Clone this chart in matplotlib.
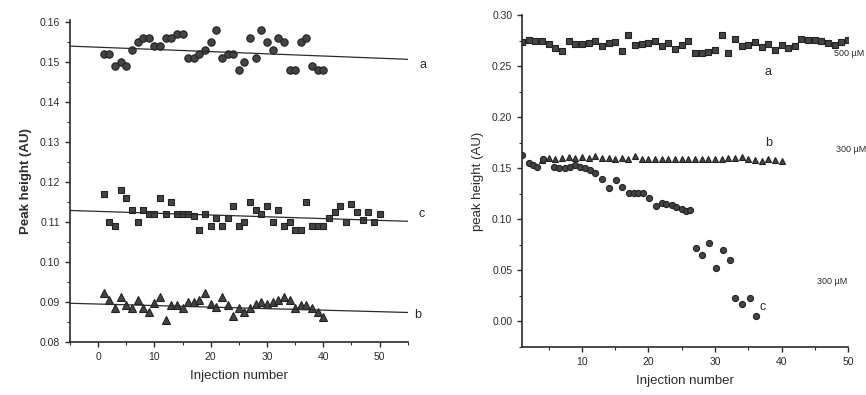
import numpy as np
import matplotlib
matplotlib.use("Agg")
import matplotlib.pyplot as plt
from matplotlib.ticker import MultipleLocator

plt.rcParams['font.family'] = ['Liberation Sans', 'DejaVu Sans']

# left panel: peak height vs injection number
left_a = [0.152, 0.152, 0.149, 0.150, 0.149, 0.153, 0.155, 0.156, 0.156, 0.154,
          0.154, 0.156, 0.156, 0.157, 0.157, 0.151, 0.151, 0.152, 0.153, 0.155,
          0.158, 0.151, 0.152, 0.152, 0.148, 0.150, 0.156, 0.151, 0.158, 0.155,
          0.153, 0.156, 0.155, 0.148, 0.148, 0.155, 0.156, 0.149, 0.148, 0.148]
left_b = [0.0923, 0.0905, 0.0885, 0.0912, 0.0893, 0.0885, 0.0905, 0.0885, 0.0874, 0.0898,
          0.0912, 0.0854, 0.0892, 0.0892, 0.0885, 0.0900, 0.0900, 0.0905, 0.0923, 0.0895,
          0.0887, 0.0912, 0.0892, 0.0866, 0.0885, 0.0874, 0.0885, 0.0895, 0.0900, 0.0895,
          0.0900, 0.0905, 0.0912, 0.0905, 0.0885, 0.0892, 0.0892, 0.0885, 0.0874, 0.0862]
left_c = [0.117, 0.110, 0.109, 0.118, 0.116, 0.113, 0.110, 0.113, 0.112, 0.112,
          0.116, 0.112, 0.115, 0.112, 0.112, 0.112, 0.1115, 0.108, 0.112, 0.109,
          0.111, 0.109, 0.111, 0.114, 0.109, 0.110, 0.115, 0.113, 0.112, 0.114,
          0.110, 0.113, 0.109, 0.110, 0.108, 0.108, 0.115, 0.109, 0.109, 0.109,
          0.111, 0.1125, 0.114, 0.110, 0.1145, 0.1125, 0.1105, 0.1125, 0.110, 0.112]
# linear fits (intercept, slope)
fit_a = (0.15373, -0.000055)
fit_b = (0.08951, -0.0000383)
fit_c = (0.11268, -0.000045)

# right panel
right_a = [0.274, 0.276, 0.275, 0.275, 0.272, 0.268, 0.265, 0.275, 0.272, 0.272,
           0.273, 0.275, 0.270, 0.273, 0.274, 0.265, 0.280, 0.271, 0.272, 0.273,
           0.275, 0.270, 0.273, 0.267, 0.271, 0.275, 0.263, 0.263, 0.264, 0.266,
           0.280, 0.263, 0.277, 0.270, 0.271, 0.274, 0.269, 0.272, 0.266, 0.271,
           0.268, 0.270, 0.277, 0.276, 0.276, 0.275, 0.273, 0.271, 0.274, 0.276]
right_b_x = list(range(4, 41))
right_b = [0.158, 0.160, 0.159, 0.160, 0.161, 0.160, 0.161, 0.160, 0.162, 0.160,
           0.160, 0.159, 0.160, 0.159, 0.162, 0.159, 0.159, 0.159, 0.159, 0.159,
           0.159, 0.159, 0.159, 0.159, 0.159, 0.159, 0.159, 0.159, 0.160, 0.160,
           0.161, 0.159, 0.158, 0.157, 0.159, 0.158, 0.157]
right_c_x = [1, 2, 2.6, 3.2, 4.2, 5.8, 6.6, 7.4, 8.2, 9.0, 9.7, 10.5, 11.2, 12, 13,
             14.1, 15.1, 16, 17.1, 17.8, 18.5, 19.2, 20.1, 21.2, 22, 22.7, 23.5,
             24.2, 25, 25.7, 26.3, 27.1, 28.1, 29.1, 30.1, 31.2, 32.2, 33, 34, 35.2, 36.1]
right_c = [0.163, 0.155, 0.153, 0.151, 0.159, 0.151, 0.150, 0.150, 0.151, 0.153,
           0.151, 0.150, 0.148, 0.145, 0.139, 0.131, 0.138, 0.132, 0.126, 0.126,
           0.126, 0.126, 0.121, 0.113, 0.116, 0.115, 0.114, 0.112, 0.110, 0.108,
           0.109, 0.072, 0.065, 0.077, 0.052, 0.070, 0.060, 0.023, 0.017, 0.023, 0.005]

ink = '#2b2b2b'
mk = dict(linestyle='none', color='#444444', markeredgecolor='#222222', markeredgewidth=0.8)

fig = plt.figure(figsize=(8.66, 3.95), dpi=100)
ax1 = fig.add_axes([0.0808, 0.134, 0.390, 0.815])
ax2 = fig.add_axes([0.6028, 0.1215, 0.3765, 0.8405])

for ax in (ax1, ax2):
    ax.spines['top'].set_visible(False)
    ax.spines['right'].set_visible(False)
    for s in ('left', 'bottom'):
        ax.spines[s].set_linewidth(1.2)
        ax.spines[s].set_color(ink)
    ax.tick_params(which='major', direction='out', length=3.5, width=1, labelsize=7.5, colors=ink)
    ax.tick_params(which='minor', direction='out', length=2, width=0.8, colors=ink)

# left panel
xl = np.array([-5, 55])
ax1.plot(np.arange(1, len(left_a) + 1), left_a, marker='o', markersize=5.3, **mk)
ax1.plot(np.arange(1, len(left_c) + 1), left_c, marker='s', markersize=4.5, **mk)
ax1.plot(np.arange(1, len(left_b) + 1), left_b, marker='^', markersize=5.3, **mk)
for b0, m in (fit_a, fit_b, fit_c):
    ax1.plot(xl, b0 + m * xl, color=ink, linewidth=0.9)
ax1.set_xlim(-5, 55)
ax1.set_ylim(0.08, 0.1605)
ax1.xaxis.set_major_locator(MultipleLocator(10))
ax1.xaxis.set_minor_locator(MultipleLocator(5))
ax1.yaxis.set_major_locator(MultipleLocator(0.01))
ax1.yaxis.set_minor_locator(MultipleLocator(0.005))
ax1.yaxis.set_major_formatter(plt.FormatStrFormatter('%.2f'))
ax1.set_xlabel('Injection number', fontsize=9.5, color=ink, labelpad=6)
ax1.set_ylabel('Peak height (AU)', fontsize=9.5, color=ink, fontweight='bold', labelpad=6)
ax1.text(57.7, 0.1493, 'a', fontsize=9, color=ink, ha='center', va='center', clip_on=False)
ax1.text(57.5, 0.1121, 'c', fontsize=9, color=ink, ha='center', va='center', clip_on=False)
ax1.text(56.8, 0.0868, 'b', fontsize=9, color=ink, ha='center', va='center', clip_on=False)

# right panel
ax2.plot(np.arange(1, len(right_a) + 1), right_a, marker='s', markersize=3.8, **mk)
ax2.plot(right_b_x, right_b, marker='^', markersize=4, **mk)
ax2.plot(right_c_x, right_c, marker='o', markersize=4.4, **mk)
ax2.set_xlim(1, 50)
ax2.set_ylim(-0.025, 0.30)
ax2.xaxis.set_major_locator(MultipleLocator(10))
ax2.xaxis.set_minor_locator(MultipleLocator(5))
ax2.yaxis.set_major_locator(MultipleLocator(0.05))
ax2.yaxis.set_minor_locator(MultipleLocator(0.025))
ax2.yaxis.set_major_formatter(plt.FormatStrFormatter('%.2f'))
ax2.set_xlabel('Injection number', fontsize=9.5, color=ink, labelpad=6)
ax2.set_ylabel('peak height (AU)', fontsize=9.5, color=ink, labelpad=6)
ax2.text(38, 0.244, 'a', fontsize=9, color=ink, ha='center', va='center')
ax2.text(38, 0.1745, 'b', fontsize=9, color=ink, ha='center', va='center')
ax2.text(37.1, 0.0137, 'c', fontsize=9, color=ink, ha='center', va='center')
ax2.text(47.9, 0.262, '500 µM', fontsize=6.5, color=ink, ha='left', va='center', clip_on=False)
ax2.text(48.2, 0.168, '300 µM', fontsize=6.5, color=ink, ha='left', va='center', clip_on=False)
ax2.text(45.4, 0.039, '300 µM', fontsize=6.5, color=ink, ha='left', va='center', clip_on=False)

fig.savefig('out.png', dpi=100, facecolor='white')
